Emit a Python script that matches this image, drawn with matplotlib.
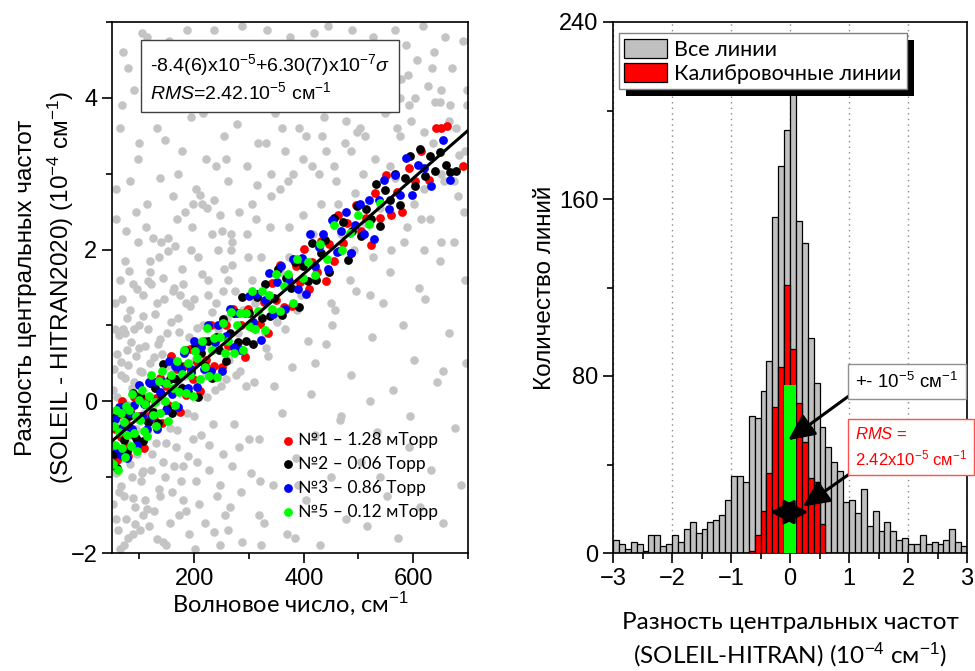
import numpy as np
import matplotlib
matplotlib.use("Agg")
import matplotlib.pyplot as plt
from matplotlib.patches import Rectangle
from matplotlib.ticker import MultipleLocator

plt.rcParams["font.family"] = ["Liberation Sans", "DejaVu Sans"]
plt.rcParams["mathtext.fontset"] = "custom"
plt.rcParams["mathtext.rm"] = "Liberation Sans"
plt.rcParams["mathtext.it"] = "Liberation Sans:italic"
plt.rcParams["mathtext.sf"] = "Liberation Sans"

CAL = ["Lato", "Open Sans", "DejaVu Sans"]  # Calibri-like text

# ---------------- left panel: SOLEIL - HITRAN2020, 1e-4 cm-1 ----------------
grey_x = [
    52, 54, 57, 59, 61, 63, 65, 67, 69, 71, 73, 75, 77, 79, 81, 83, 86, 88, 91, 93,
    96, 98, 101, 103, 106, 109, 111, 114, 117, 120, 123, 126, 129, 132, 135, 138,
    141, 144, 148, 151, 155, 158, 162, 165, 169, 172, 176, 180, 184, 188, 192, 196,
    200, 205, 209, 214, 218, 223, 228, 233, 238, 243, 248, 253, 258,
    55, 60, 66, 72, 78, 85, 92, 99, 107, 115, 124, 133, 142, 152, 163, 174, 186,
    198, 211, 224, 237, 251,
    58, 64, 70, 82, 90, 97, 105, 113, 121, 130, 137, 146, 154, 161, 170, 178, 187,
    195, 203, 212, 221, 229, 236, 245, 254, 262, 271, 279, 288, 296, 75, 125, 183,
    240, 268,
    265, 272, 280, 287, 295, 303, 311, 319, 327, 335, 344, 352, 361, 369, 378, 386,
    395, 404, 413, 421, 430, 440, 449, 458, 467, 477, 486, 496, 505, 515, 524, 534,
    544, 553, 563, 573, 582, 592, 602, 612, 622, 633, 644, 655, 666, 677, 688, 697,
    262, 270, 284, 298, 313, 329, 341, 356, 372, 388, 399, 417, 433, 446, 463, 478,
    492, 509, 527, 541, 558, 571, 588, 604, 619, 636, 651, 667, 682, 694, 455, 505,
    560, 620, 650,
    305, 316, 324, 333, 347, 358, 366, 375, 383, 392, 401, 409, 418, 426, 437, 444,
    452, 461, 470, 481, 489, 498, 507, 518, 526, 536, 547, 556, 566, 577, 586, 596,
    607, 617, 627, 638, 648, 658, 671, 679, 690, 698, 340, 428, 512,
    51, 53, 56, 58, 60, 62, 64, 65, 67, 68, 70, 72, 74, 76, 77, 79, 80, 82, 84, 85,
    87, 89, 90, 92, 94, 95, 97, 99, 100, 102, 104, 105, 107, 108, 110, 112, 113,
    116, 118, 119, 121, 122, 125, 127, 128, 131, 134, 136, 137, 139, 143, 145, 147,
    149, 150, 153, 156, 157, 160, 161, 164, 167, 168, 171, 173, 175, 177, 179, 182,
    185, 187, 190, 191, 194, 197, 199, 202, 204, 207, 210, 213, 215, 217, 220, 222,
    225, 227, 230, 232, 235, 239, 241, 244, 247, 249, 252, 255, 257, 260, 264, 267,
    270, 274, 277, 281, 285, 289, 293, 297, 301, 306, 310, 315, 320,
    322, 331, 339, 348, 356, 365, 373, 381, 390, 398, 407, 415, 423, 432, 441, 450,
    459, 468, 476, 485, 494, 503, 512, 521, 530, 539, 548, 557, 566, 575, 584, 593,
    602, 611, 620, 630, 639, 648, 657, 666, 675, 684, 693, 699, 360, 420, 470, 530,
    590, 650,
    57, 63, 69, 74, 80, 86, 93, 100, 106, 113, 119, 126, 133, 140, 147, 155, 163,
    171, 179, 188, 197, 206, 216, 226, 236, 247, 258, 269, 281, 293, 305, 318, 331,
    345, 359, 374, 389, 404, 420, 436, 452, 469, 486, 503, 521, 539, 557, 576, 595,
    614, 634, 654, 674, 694, 88, 144, 202, 262, 322, 384,
]
grey_y = [
    -1.35, 0.42, -0.95, 0.05, -1.7, 0.88, -0.22, -1.12, 1.35, -0.48, 0.31, -1.55,
    0.67, -0.05, 1.72, -0.83, 0.18, -1.28, 0.95, -0.36, 1.48, -0.62, 0.4, -1.05,
    1.12, -0.15, 0.73, -1.42, 0.25, 1.85, -0.7, 0.58, -0.3, 1.3, -1.15, 0.82, 0.02,
    1.62, -0.55, 0.47, -1.6, 1.05, 0.12, 2.05, -0.38, 0.91, -1.05, 1.55, 0.33,
    -0.72, 1.25, 2.3, -0.2, 0.96, -1.35, 1.68, 0.5, 2.55, -0.58, 1.18, 0.15, 2.0,
    -1.1, 1.45, 0.3,
    0.95, -0.68, 0.52, -1.9, 1.1, -0.1, -1.62, 0.7, -0.92, 1.58, -0.12, -1.82,
    0.62, 1.98, -0.85, 1.4, -1.45, 0.68, 2.72, 0.05, -1.72, 2.25,
    2.4, 3.6, 4.6, 2.9, 4.1, 3.2, 4.85, 2.6, 3.9, 4.4, 2.95, 3.45, 4.75, 2.7, 4.15,
    3.3, 4.9, 3.75, 2.8, 4.45, 3.2, 4.0, 2.65, 4.7, 3.5, 2.9, 4.25, 3.65, 4.95,
    3.1, 2.25, 2.15, 2.5, 3.1, 2.2,
    -1.4, -0.3, 0.9, -1.85, 0.2, -0.95, 1.3, -0.5, -1.6, 0.6, -1.1, 1.05, -0.15,
    -1.75, 0.45, -0.75, 1.4, -1.3, 0.1, -0.45, -1.9, 0.75, -1.0, 1.2, -0.25, -1.55,
    0.35, 1.45, -0.8, -1.65, 0.85, -0.4, 1.3, -1.25, 0.15, -1.8, 1.0, -0.6, 0.55,
    -1.4, 1.35, -0.9, 0.25, -1.6, 0.9, -0.35, -1.1, 0.5,
    1.6, 2.1, 0.4, 1.9, 2.4, 0.9, 2.7, 1.7, 2.9, 1.2, 3.2, 2.2, 3.5, 1.7, 2.6, 3.7,
    2.0, 3.0, 1.9, 3.9, 2.5, 3.6, 2.3, 4.0, 2.8, 3.4, 2.1, 3.9, 2.7, 3.3, 3.1, 2.2,
    2.0, 2.0, 3.0,
    4.6, 3.4, 4.2, 4.9, 3.8, 4.5, 3.3, 4.8, 4.1, 3.6, 4.65, 3.95, 4.85, 4.3, 3.75,
    4.95, 4.4, 3.9, 4.7, 4.2, 4.9, 3.55, 4.45, 4.0, 4.8, 4.35, 4.6, 3.85, 4.9,
    4.25, 4.7, 3.7, 4.5, 4.95, 4.15, 4.6, 3.95, 4.8, 4.4, 3.6, 4.75, 4.1, 3.0, 3.0,
    3.5,
    0.15, -0.85, 1.3, -1.55, 0.62, -0.28, -1.95, 1.6, 0.35, -0.75, 0.95, -1.25,
    1.85, -0.1, -0.55, 0.48, -1.8, 1.2, -0.45, 0.78, -1.0, 1.55, 0.25, -1.4, 0.6,
    -0.7, 2.1, -0.25, 1.0, -1.7, 0.38, -0.95, 1.4, 0.05, -1.3, 2.3, -0.4, 0.95,
    -1.65, 0.5, 1.55, -0.9, 0.22, -1.45, 1.15, -0.55, 0.75, 1.9, -1.25, 0.3, -0.8,
    1.35, 0.0, -1.9, 0.9, 2.15, -0.35, 0.6, -1.2, 1.45, 0.4, -0.6, 2.4, 1.1, -1.5,
    0.2, 1.75, -0.85, 0.65, 1.3, -0.15, -1.75, 0.85, 2.0, -0.5, 1.35, 0.55, -1.05,
    1.9, 0.1, -0.45, 2.6, 1.0, -1.6, 0.35, 1.6, -0.9, 0.7, 2.2, -0.3, 1.3, -1.25,
    0.95, 2.45, 0.2, -0.7, 1.75, -1.5, 1.1, 0.55, 2.0, -0.85, 1.45, 0.35, 2.5,
    -1.2, 1.2, 0.6, 2.2, -0.5, 1.6, 0.25, 2.85, -1.05,
    1.9, 0.7, 2.3, 1.15, 2.8, 0.95, 1.9, 3.0, 1.55, 2.45, 0.8, 3.1, 1.75, 2.6, 3.3,
    1.3, 2.9, 2.2, 3.4, 1.6, 2.75, 3.6, 2.35, 1.4, 3.2, 2.55, 3.8, 1.7, 2.95, 3.5,
    2.1, 3.9, 2.6, 1.5, 3.55, 2.4, 3.95, 1.85, 2.9, 3.7, 2.1, 3.25, 2.5, 3.9, 3.6,
    3.9, 4.0, 4.2, 4.3, 4.1,
    2.8, -1.2, 3.9, 0.9, 4.4, -0.6, 2.5, 3.4, -1.5, 4.8, 1.7, -0.3, 3.6, 2.1, -1.0,
    4.2, 1.5, 3.0, -1.3, 4.6, 2.6, -0.8, 3.8, 1.4, 4.9, -1.9, 3.2, 1.8, -0.6, 4.5,
    2.6, -1.5, 3.4, 0.2, 4.1, 2.3, -1.1, 3.5, 0.5, 4.6, 1.0, -0.2, 3.3, 4.4, 0.0,
    -1.0, 3.1, 4.0, -0.2, 2.4, 4.4, 0.4, 2.9, 1.6, -1.75, -1.85, -1.95, -1.7, -1.9,
    -1.8,
]

s1_x = [56, 60, 63, 66, 69, 73, 76, 80, 83, 87, 91, 95, 99, 103, 108, 112, 117, 121,
        127, 131, 137, 142, 148, 152, 158, 163, 169, 175, 181, 186, 193, 198, 205,
        210, 218, 222, 231, 236, 244, 250, 258, 262, 271, 278, 285, 292, 299, 306,
        313, 320, 327, 335, 342, 349, 356, 364, 371, 379, 386, 394, 401, 410, 416,
        424, 431, 440, 447, 455, 463, 471, 479, 487, 496, 505, 513, 522, 531, 540,
        550, 560, 570, 580, 592, 603, 615, 628, 642, 650, 662, 690]
s1_y = [-0.37, -0.77, -0.17, -0.47, 0.0, -0.6, -0.28, -0.72, -0.13, -0.43,
        0.06, -0.51, -0.2, 0.05, -0.61, 0.02, -0.19, 0.28, -0.24, 0.04,
        0.31, -0.28, 0.2, -0.05, 0.6, 0.13, 0.43, -0.14, 0.46, 0.08,
        0.69, 0.29, 0.52, 0.13, 0.79, 0.54, 1.0, 0.46, 0.83, 0.45,
        1.0, 0.73, 1.21, 0.68, 1.0, 0.58, 1.22, 0.98, 1.41, 1.02,
        1.31, 0.9, 1.56, 1.33, 1.8, 1.24, 1.64, 1.25, 1.79, 1.57,
        2.01, 1.48, 1.84, 1.7, 2.11, 1.59, 2.08, 1.85, 2.45, 2.09,
        2.35, 1.95, 2.59, 2.24, 2.42, 2.06, 2.75, 2.41, 2.98, 2.45,
        2.76, 2.49, 3.08, 2.9, 3.3, 2.92, 3.6, 3.6, 3.63, 3.1]

s2_x = [53, 57, 60, 64, 67, 71, 74, 78, 81, 85, 89, 93, 97, 101, 106, 110, 115, 119,
        124, 129, 134, 139, 144, 150, 155, 160, 166, 171, 177, 183, 189, 195, 201,
        207, 213, 219, 226, 232, 239, 245, 252, 259, 266, 273, 280, 287, 294, 301,
        308, 315, 323, 330, 338, 345, 353, 360, 368, 376, 384, 391, 399, 407, 415,
        423, 431, 439, 447, 455, 464, 472, 480, 489, 497, 505, 514, 523, 532, 540,
        549, 558, 567, 576, 585, 594, 603, 612, 621, 630, 640, 648, 659, 668, 678]
s2_y = [-0.69, -0.19, -0.88, -0.37, -0.07, -0.51, -0.16, -0.65, -0.19, -0.36,
        0.11, -0.49, -0.21, 0.07, -0.53, -0.04, -0.27, 0.24, -0.14, 0.17,
        -0.28, 0.09, 0.49, -0.09, 0.3, -0.16, 0.3, 0.49, 0.17, 0.68,
        0.12, 0.39, 0.73, 0.06, 0.63, 0.47, 0.8, 0.31, 0.85, 0.68,
        1.09, 0.53, 0.9, 1.16, 0.78, 1.37, 0.8, 1.16, 0.75, 1.38,
        1.1, 1.55, 1.12, 1.36, 1.74, 1.14, 1.63, 1.49, 1.84, 1.24,
        1.79, 1.59, 2.09, 1.6, 1.96, 2.12, 1.71, 2.41, 1.98, 2.36,
        1.86, 2.25, 2.58, 2.18, 2.54, 2.4, 2.86, 2.31, 2.79, 2.65,
        3.0, 2.59, 2.94, 3.23, 2.84, 3.32, 2.97, 3.23, 3.04, 3.29,
        3.11, 3.02, 3.03]

s3_x = [55, 59, 62, 66, 70, 74, 78, 82, 87, 91, 95, 99, 104, 108, 113, 118, 123, 128,
        133, 138, 143, 148, 154, 159, 165, 170, 176, 182, 188, 194, 200, 206, 212,
        218, 225, 231, 238, 244, 251, 258, 265, 272, 279, 286, 293, 300, 307, 314,
        322, 329, 336, 344, 351, 358, 366, 373, 381, 389, 396, 404, 412, 420, 428,
        436, 444, 452, 460, 469, 477, 486, 494, 503, 511, 520, 529, 538, 547, 556,
        566, 576, 586, 597, 608, 620, 632, 655, 668]
s3_y = [-0.24, -0.61, -0.07, -0.71, -0.34, -0.06, -0.75, -0.15, -0.37, -0.05,
        -0.57, 0.22, -0.19, -0.03, -0.37, 0.25, -0.19, 0.25, -0.37, 0.12,
        0.25, -0.11, 0.53, 0.1, 0.46, -0.08, 0.42, 0.64, 0.18, 0.42,
        0.79, 0.19, 0.71, 0.43, 1.01, 0.4, 0.78, 1.0, 0.4, 0.86,
        1.22, 0.72, 1.16, 0.68, 1.17, 1.39, 1.04, 1.41, 0.81, 1.33,
        1.69, 1.15, 1.57, 1.78, 1.22, 1.59, 1.88, 1.48, 1.89, 1.41,
        2.21, 1.79, 2.04, 2.2, 1.75, 2.39, 1.97, 2.25, 2.5, 1.96,
        2.32, 2.6, 2.21, 2.66, 2.14, 2.66, 2.92, 2.54, 2.98, 2.72,
        3.21, 2.72, 3.12, 3.07, 2.84, 3.44, 2.92]

s5_x = [52, 54, 56, 58, 61, 63, 66, 68, 71, 73, 76, 78, 81, 84, 87, 90, 93, 96, 99,
        102, 105, 108, 111, 114, 117, 121, 124, 128, 131, 135, 138, 142, 146, 149,
        153, 157, 161, 165, 169, 173, 177, 181, 185, 189, 193, 197, 201, 206, 210,
        215, 219, 224, 228, 233, 237, 242, 247, 252, 257, 262, 267, 272, 278, 283,
        289, 294, 300, 305, 311, 317, 323, 329, 336, 342, 349, 356, 364, 371, 380,
        388, 398, 408, 420, 430, 442, 455, 470, 485, 500, 520, 540]
s5_y = [-0.83, -0.32, -0.57, -0.11, -0.9, -0.4, -0.15, -0.61, -0.27, -0.74,
        -0.06, -0.45, -0.12, -0.59, 0.1, -0.42, -0.19, -0.65, 0.02, -0.25,
        0.15, -0.39, -0.04, -0.46, 0.07, 0.34, -0.18, -0.01, -0.32, 0.27,
        -0.15, 0.4, 0.01, 0.24, -0.26, 0.35, 0.18, -0.05, 0.53, 0.12,
        0.36, 0.67, 0.11, 0.51, 0.34, 0.07, 0.66, 0.57, 0.29, 0.8,
        0.45, 0.97, 0.33, 0.68, 0.84, 0.32, 0.85, 1.03, 0.64, 0.79,
        1.18, 0.63, 1.0, 1.16, 0.67, 1.16, 0.99, 1.46, 0.95, 1.19,
        1.45, 0.94, 1.4, 1.22, 1.68, 1.19, 1.52, 1.68, 1.29, 1.87,
        1.62, 1.83, 1.66, 2.07, 1.87, 2.33, 2.0, 2.22, 2.46, 2.34,
        2.61]

series_labels = ["№1 – 1.28 мТорр", "№2 – 0.06 Торр", "№3 – 0.86 Торр", "№5 – 0.12 мТорр"]
series_colors = ["#ff0000", "#000000", "#0000ff", "#00ff00"]

fit_a, fit_b = -0.84, 0.0063   # -8.4e-5 + 6.30e-7*sigma

# ---------------- right panel: histogram of differences ----------------
all_counts = [6, 4, 2, 5, 4, 1, 8, 8, 3, 4,
              8, 5, 11, 14, 9, 11, 14, 15, 17, 24,
              35, 35, 32, 62, 61, 73, 87, 152, 175, 191,
              225, 150, 140, 97, 77, 57, 48, 41, 37, 23,
              24, 18, 29, 12, 19, 10, 14, 10, 6, 7,
              4, 4, 8, 4, 5, 4, 6, 11, 5, 3]
cal_left = [-0.7, -0.6, -0.5, -0.4, -0.3, -0.2, -0.1, 0.0, 0.1, 0.2, 0.3, 0.4, 0.5]
cal_counts = [1, 8, 19, 36, 66, 84, 121, 92, 68, 50, 34, 32, 13]
green_halfwidth = 0.1          # +- 1e-5 cm-1
green_count = 76

fig = plt.figure(figsize=(9.75, 6.71), dpi=100)
ax1 = fig.add_axes([112 / 975, 118 / 671, 356 / 975, 531 / 671])
ax2 = fig.add_axes([613 / 975, 118 / 671, 354 / 975, 531 / 671])

# left
ax1.scatter(grey_x, grey_y, s=38, c="#c4c4c4", lw=0, zorder=1)
for xs, ys, col, lab in zip([s1_x, s2_x, s3_x, s5_x], [s1_y, s2_y, s3_y, s5_y],
                            series_colors, series_labels):
    ax1.scatter(xs, ys, s=40, c=col, lw=0, label=lab, zorder=2)
ax1.set_xlim(50, 700)
ax1.set_ylim(-2, 5)
xf = np.array(ax1.get_xlim())
ax1.plot(xf, fit_a + fit_b * xf, color="k", lw=2.2, zorder=3)

ax1.xaxis.set_major_locator(MultipleLocator(200))
ax1.xaxis.set_minor_locator(MultipleLocator(100))
ax1.yaxis.set_major_locator(MultipleLocator(2))
ax1.yaxis.set_minor_locator(MultipleLocator(1))

ax1.set_xlabel("Волновое число, см$^{-1}$", family=CAL, fontsize=17, labelpad=0)
ax1.set_ylabel("Разность центральных частот\n(SOLEIL - HITRAN2020) (10$^{-4}$ см$^{-1}$)",
               fontsize=17.5, labelpad=-4, linespacing=1.4)

ax1.text(0.107, 0.895,
         "-8.4(6)x10$^{-5}$+6.30(7)x10$^{-7}$$\\sigma$\n$\\it{RMS}$=2.42.10$^{-5}$ см$^{-1}$",
         transform=ax1.transAxes, ha="left", va="center", fontsize=14,
         bbox=dict(boxstyle="square,pad=0.45", fc="white", ec="#404040", lw=1),
         zorder=5)

ax1.legend(loc="lower left", bbox_to_anchor=(0.45, 0.05), borderaxespad=0,
           frameon=False, handletextpad=0.1, handlelength=1.0, labelspacing=0.45,
           prop={"family": CAL, "size": 12.5})

# right
edges = np.linspace(-3, 3, len(all_counts) + 1)
ax2.bar(edges[:-1], all_counts, width=0.1, align="edge", color="#c0c0c0",
        edgecolor="black", lw=0.9, zorder=2, label="Все линии")
ax2.bar(cal_left, cal_counts, width=0.1, align="edge", color="#ff0000",
        edgecolor="black", lw=0.9, zorder=3, label="Калибровочные линии")
ax2.bar(0, green_count, width=2 * green_halfwidth, color="#00ff00", lw=0, zorder=4)

ax2.set_xlim(-3, 3)
ax2.set_ylim(0, 240)
ax2.xaxis.set_major_locator(MultipleLocator(1))
ax2.xaxis.set_minor_locator(MultipleLocator(0.5))
ax2.yaxis.set_major_locator(MultipleLocator(80))
ax2.yaxis.set_minor_locator(MultipleLocator(40))
ax2.grid(axis="x", which="major", color="#888888", ls=(0, (1, 3)), lw=1, zorder=1)
ax2.set_axisbelow(True)

ax2.set_ylabel("Количество линий", fontsize=17.5, labelpad=2)
ax2.set_xlabel("Разность центральных частот\n(SOLEIL-HITRAN) (10$^{-4}$ см$^{-1}$)",
               family=CAL, fontsize=17.5, labelpad=16, linespacing=1.35)

for ax in (ax1, ax2):
    ax.tick_params(which="major", direction="out", length=7, width=1.2, labelsize=17)
    ax.tick_params(which="minor", direction="out", length=4, width=1.2)
    for sp in ax.spines.values():
        sp.set_linewidth(1.2)

head = dict(color="k", lw=2.2, shrinkA=0, shrinkB=0)
ax2.annotate("", xy=(-0.03, 51), xytext=(1.05, 72),
             arrowprops=dict(arrowstyle="-|>,head_length=0.8,head_width=0.38",
                             mutation_scale=20, **head), zorder=6)
ax2.annotate("", xy=(0.22, 21), xytext=(1.05, 36.5),
             arrowprops=dict(arrowstyle="-|>,head_length=0.8,head_width=0.38",
                             mutation_scale=20, **head), zorder=6)
ax2.annotate("", xy=(-0.34, 18.5), xytext=(0.31, 18.5),
             arrowprops=dict(arrowstyle="<|-|>,head_length=0.75,head_width=0.38",
                             mutation_scale=20, **head), zorder=6)

ax2.text(1.98, 77.5, "+- 10$^{-5}$ см$^{-1}$", ha="center", va="center", fontsize=13.5,
         bbox=dict(boxstyle="square,pad=0.4", fc="white", ec="#909090", lw=1),
         zorder=7, clip_on=False)
ax2.text(1.1, 47.8, "$\\it{RMS}$ =\n2.42x10$^{-5}$ см$^{-1}$", ha="left", va="center",
         color="#ff0000", fontsize=12, linespacing=1.4,
         bbox=dict(boxstyle="square,pad=0.4", fc="white", ec="#ff5050", lw=1),
         zorder=7, clip_on=False)

leg = ax2.legend(loc="upper left", bbox_to_anchor=(0.017, 0.979), borderaxespad=0,
                 fancybox=False, framealpha=1, edgecolor="#808080",
                 prop={"family": CAL, "size": 15.5}, handlelength=2.0, handleheight=1.0,
                 handletextpad=0.3, labelspacing=0.15, borderpad=0.25)
leg.get_frame().set_linewidth(1)
leg.set_zorder(10)

# drop shadow under the legend box
fig.canvas.draw()
bb = leg.get_window_extent()
inv = ax2.transAxes.inverted()
x0, y0 = inv.transform((bb.x0 + 7, bb.y0 - 7))
x1, y1 = inv.transform((bb.x1 + 7, bb.y1 - 7))
ax2.add_patch(Rectangle((x0, y0), x1 - x0, y1 - y0, transform=ax2.transAxes,
                        fc="black", ec="none", zorder=9, clip_on=False))

fig.savefig("out.png", dpi=100)
